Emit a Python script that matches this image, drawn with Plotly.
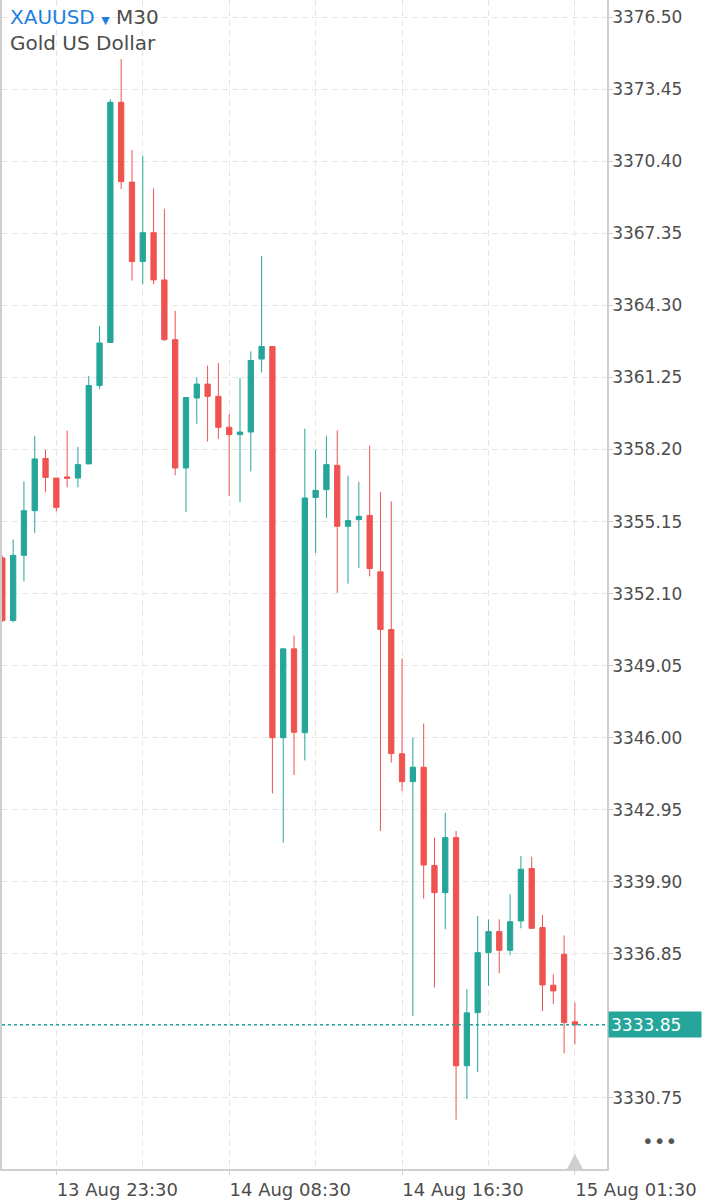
import pandas as pd
import plotly.graph_objects as go

# ---- data (30-minute candles, XAUUSD) ----
times = [t for t in pd.date_range("2025-08-13 21:00", "2025-08-15 01:30", freq="30min") if t.hour != 0]
bar_labels = [t.strftime("%d %b %H:%M") for t in times]

opens = [3353.61, 3350.96, 3353.72, 3355.61, 3357.82, 3356.99, 3357.04, 3356.99, 3357.59, 3360.91,
         3362.73, 3372.90, 3369.52, 3366.16, 3367.38, 3365.38, 3362.85, 3357.42, 3360.38, 3360.97,
         3360.45, 3359.14, 3358.83, 3358.94, 3362.03, 3362.56, 3346.00, 3349.76, 3346.21, 3356.17,
         3356.50, 3357.53, 3354.95, 3355.23, 3355.41, 3353.02, 3350.58, 3345.32, 3344.14, 3344.75,
         3340.59, 3339.44, 3341.77, 3332.11, 3334.36, 3336.90, 3337.79, 3337.00, 3338.24, 3340.46,
         3337.96, 3335.52, 3336.83, 3333.97]
highs = [3353.70, 3354.39, 3356.85, 3358.78, 3358.19, 3357.00, 3359.00, 3358.31, 3361.32, 3363.42,
         3373.03, 3374.73, 3370.88, 3370.63, 3369.26, 3368.39, 3364.07, 3360.40, 3361.25, 3361.75,
         3361.86, 3359.70, 3361.23, 3362.35, 3366.40, 3362.58, 3349.80, 3350.32, 3359.08, 3358.19,
         3358.78, 3359.01, 3357.09, 3356.83, 3358.37, 3356.40, 3356.01, 3349.35, 3346.00, 3346.60,
         3341.77, 3342.82, 3342.05, 3335.35, 3338.45, 3338.31, 3338.31, 3339.37, 3340.99, 3340.96,
         3338.49, 3335.98, 3337.63, 3334.79]
lows = [3350.90, 3350.89, 3352.62, 3354.67, 3356.39, 3355.58, 3356.60, 3356.60, 3357.59, 3360.76,
        3362.73, 3369.22, 3365.35, 3365.20, 3365.20, 3362.80, 3357.11, 3355.56, 3359.29, 3358.54,
        3358.65, 3356.22, 3355.98, 3357.27, 3361.46, 3343.64, 3341.56, 3344.42, 3345.04, 3353.82,
        3355.30, 3352.13, 3352.52, 3353.19, 3352.83, 3342.05, 3344.94, 3343.74, 3334.22, 3339.19,
        3335.42, 3337.89, 3329.82, 3330.71, 3331.85, 3335.49, 3336.03, 3336.79, 3337.93, 3337.93,
        3334.43, 3334.72, 3332.64, 3333.02]
closes = [3350.96, 3353.72, 3355.61, 3357.80, 3357.02, 3355.75, 3356.98, 3357.56, 3360.91, 3362.71,
          3372.90, 3369.54, 3366.16, 3367.38, 3365.38, 3362.85, 3357.42, 3360.40, 3360.97, 3360.45,
          3359.14, 3358.83, 3358.94, 3361.97, 3362.56, 3346.00, 3349.76, 3346.23, 3356.15, 3356.47,
          3357.56, 3354.95, 3355.19, 3355.37, 3353.16, 3350.58, 3345.33, 3344.14, 3344.75, 3340.61,
          3339.44, 3341.77, 3332.11, 3334.35, 3336.90, 3337.79, 3337.00, 3338.21, 3340.43, 3337.93,
          3335.53, 3335.28, 3333.94, 3333.85]

price_ticks = [3330.75, 3333.80, 3336.85, 3339.90, 3342.95, 3346.00, 3349.05, 3352.10,
               3355.15, 3358.20, 3361.25, 3364.30, 3367.35, 3370.40, 3373.45, 3376.50]
time_tick_labels = ["13 Aug 23:30", "14 Aug 08:30", "14 Aug 16:30", "15 Aug 01:30"]

symbol = "XAUUSD"
timeframe = "M30"
instrument = "Gold US Dollar"
last_price = closes[-1]

UP = "#26a69a"
DOWN = "#ef5350"
GRID = "#e6e6e6"
AXIS = "#cfcfcf"
TEXT = "#4d4d4d"
FONT = "DejaVu Sans"

x_idx = list(range(len(times)))
major_x = [bar_labels.index(lbl) for lbl in time_tick_labels]
minor_x = [(a + b) / 2 for a, b in zip(major_x[:-1], major_x[1:])]

# the price tick hidden under the current-price badge gets no label
price_ticktext = ["" if abs(v - last_price) < 1.0 else f"{v:.2f}" for v in price_ticks]

fig = go.Figure()
fig.add_trace(go.Candlestick(
    x=x_idx, open=opens, high=highs, low=lows, close=closes,
    increasing=dict(line=dict(color=UP, width=1), fillcolor=UP),
    decreasing=dict(line=dict(color=DOWN, width=1), fillcolor=DOWN),
    hoverinfo="skip", showlegend=False,
))

# current price dotted line
fig.add_shape(type="line", xref="paper", x0=0, x1=1, yref="y", y0=last_price, y1=last_price,
              line=dict(color=UP, width=1.5, dash="3px,3px"), layer="above")

# marker triangle at last bar on the time axis
fig.add_shape(type="path", xref="x", yref="paper", xsizemode="pixel", ysizemode="pixel",
              xanchor=x_idx[-1], yanchor=0, path="M-8,0 L0,15 L8,0 Z",
              fillcolor="#cfcfcf", line=dict(width=0), layer="above")

# current price label
fig.add_annotation(xref="paper", x=1, xanchor="left", xshift=1, yref="y", y=last_price,
                   yanchor="middle", text=f"{last_price:.2f}", showarrow=False,
                   bgcolor=UP, font=dict(family=FONT, size=17, color="white"),
                   width=88, height=21, align="left", borderpad=2)

# title
fig.add_annotation(xref="paper", x=0, xanchor="left", xshift=6, yref="paper", y=1, yanchor="top",
                   yshift=-3, align="left", showarrow=False,
                   text=(f'<span style="color:#1e7fe0">{symbol}</span> '
                         f'<span style="color:#1e7fe0;font-size:11px">▼</span> {timeframe}<br>{instrument}'),
                   font=dict(family=FONT, size=20, color=TEXT))

# more-menu dots
fig.add_annotation(xref="paper", x=1, xanchor="center", xshift=52, yref="paper", y=0,
                   yanchor="middle", yshift=28, text="•••", showarrow=False,
                   font=dict(family=FONT, size=20, color="#555555"))

fig.update_layout(
    width=710, height=1200,
    margin=dict(l=0, r=103, t=0, b=30),
    paper_bgcolor="white", plot_bgcolor="white",
    showlegend=False,
    xaxis=dict(
        type="linear", range=[-0.03, 55.97], rangeslider=dict(visible=False),
        tickmode="array", tickvals=major_x, ticktext=time_tick_labels,
        ticks="outside", ticklen=4, tickcolor=AXIS, ticklabelshift=61,
        tickfont=dict(family=FONT, size=18, color=TEXT),
        showgrid=True, gridcolor=GRID, griddash="6px,4px", gridwidth=1,
        minor=dict(tickmode="array", tickvals=minor_x, showgrid=True, gridcolor=GRID,
                   griddash="6px,4px", ticks=""),
        showline=True, linecolor=AXIS, linewidth=1.5, zeroline=False, fixedrange=True,
    ),
    yaxis=dict(
        side="right", range=[3327.74, 3377.23],
        tickmode="array", tickvals=price_ticks, ticktext=price_ticktext,
        ticks="outside", ticklen=4, tickcolor=AXIS, ticklabelstandoff=-4,
        tickfont=dict(family=FONT, size=17, color=TEXT),
        showgrid=True, gridcolor=GRID, griddash="6px,4px", gridwidth=1,
        showline=True, linecolor=AXIS, linewidth=1.5, mirror=True, zeroline=False, fixedrange=True,
    ),
)

fig.write_html("out.html")
